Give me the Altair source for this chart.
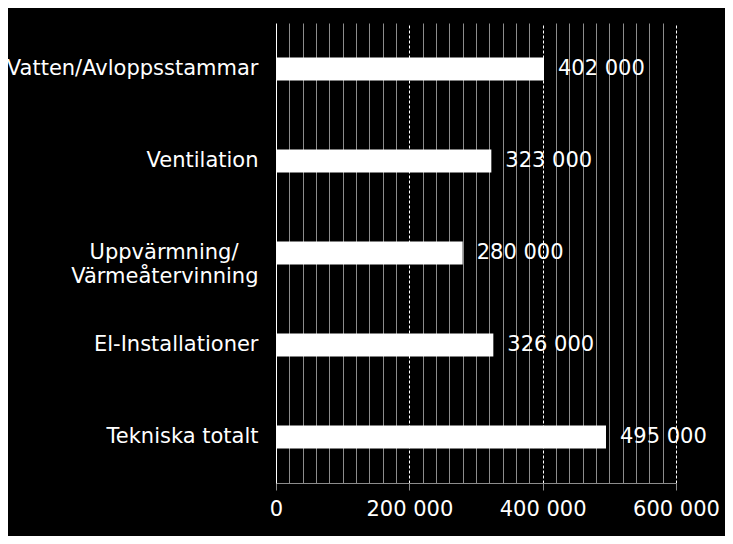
import altair as alt
import pandas as pd

categories = ["Vatten/Avloppsstammar", "Ventilation",
              "Uppvärmning/\u00a0\u00a0\u00a0\u200b\nVärmeåtervinning",
              "El-Installationer", "Tekniska totalt"]
values = [402000, 323000, 280000, 326000, 495000]
tick_values = list(range(0, 600001, 20000))

df = pd.DataFrame({"cat": categories, "v": values})

FONT = "DejaVu Sans"
FS = 21
MAJOR = "datum.value % 200000 === 0"

y_enc = alt.Y("cat:N", sort=categories, title=None,
              scale=alt.Scale(paddingInner=0.75, paddingOuter=0.375),
              axis=alt.Axis(domainColor="white", domainWidth=1, ticks=False,
                            labelColor="white", labelFont=FONT, labelFontSize=FS,
                            labelPadding=18, labelLimit=400,
                            labelExpr="split(datum.label, '\\n')",
                            labelLineHeight=24))

x_enc = alt.X("v:Q", title=None,
              scale=alt.Scale(domain=[0, 600000], nice=False, zero=True),
              axis=alt.Axis(values=tick_values, tickCount=100, grid=True,
                            gridColor={"condition": {"test": MAJOR, "value": "white"}, "value": "#8c8c8c"},
                            gridDash={"condition": {"test": MAJOR, "value": [3, 2]}, "value": []},
                            gridWidth=1,
                            domainColor="#8c8c8c", domainWidth=1,
                            tickColor={"condition": {"test": MAJOR, "value": "#8c8c8c"}, "value": "transparent"},
                            tickSize=7,
                            labelExpr=MAJOR + " ? replace(datum.label, ',', ' ') : ''",
                            labelColor="white", labelFont=FONT, labelFontSize=FS,
                            labelPadding=8, labelFlush=False, labelOverlap=False))

bars = alt.Chart(df).mark_bar(color="white").encode(x=x_enc, y=y_enc)

text = alt.Chart(df).transform_calculate(
    lab="replace(format(datum.v, ','), ',', ' ')"
).mark_text(align="left", baseline="middle", dx=14, color="white",
            font=FONT, fontSize=FS).encode(
    x="v:Q", y=alt.Y("cat:N", sort=categories), text="lab:N")

chart = (bars + text).properties(
    width=400, height=460,
    background="black",
    padding={"left": 268, "top": 15, "right": 49, "bottom": 53},
    autosize=alt.AutoSizeParams(type="none"),
).configure_view(stroke=None)

chart.save("out.html", embed_options={"renderer": "svg", "actions": False})
